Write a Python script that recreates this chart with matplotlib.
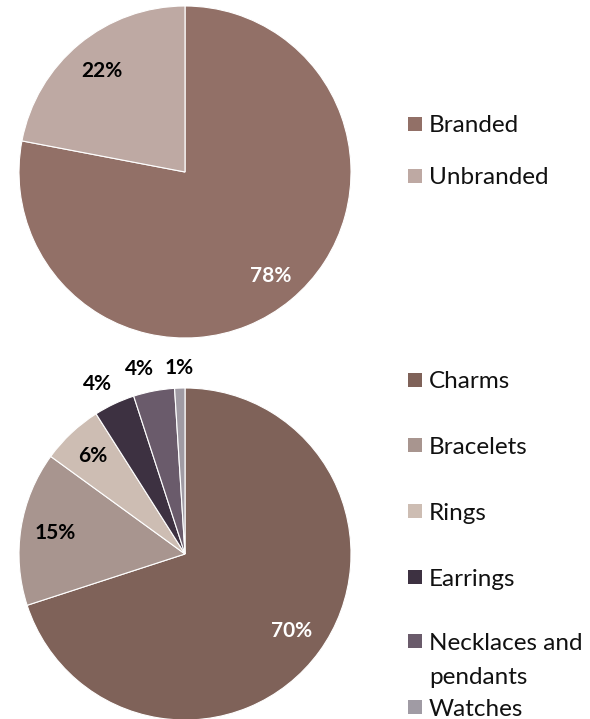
import numpy as np
import matplotlib.pyplot as plt
from matplotlib.patches import Rectangle

plt.rcParams['font.family'] = ['Lato', 'DejaVu Sans']

# brand split
brand_labels = ['Branded', 'Unbranded']
brand_share = [78, 22]
brand_colors = ['#927067', '#bea9a3']

# product category split
product_labels = ['Charms', 'Bracelets', 'Rings', 'Earrings',
                  'Necklaces and\npendants', 'Watches']
product_share = [70, 15, 6, 4, 4, 1]
product_colors = ['#7f6259', '#a8958f', '#cdbdb3', '#3d3141', '#6a5b6b', '#a09ba4']

W, H = 590, 719


def draw_pie(ax, values, colors, label_r, label_colors, nudge=None):
    wedges, _ = ax.pie(values, colors=colors, startangle=90, counterclock=False,
                       radius=1.0,
                       wedgeprops=dict(edgecolor='white', linewidth=0.8))
    ax.set_xlim(-1, 1)
    ax.set_ylim(-1, 1)
    ax.set_aspect('equal')
    ax.axis('off')
    if nudge is None:
        nudge = [0] * len(values)
    for w, v, r, c, d in zip(wedges, values, label_r, label_colors, nudge):
        mid = np.deg2rad((w.theta1 + w.theta2) / 2 + d)
        ax.text(r * np.cos(mid), r * np.sin(mid), f'{v}%', ha='center', va='center',
                fontsize=15, fontweight='bold', color=c, clip_on=False)
    return wedges


def draw_legend(fig, wedges, labels, ys):
    # hand-placed legend: square swatch + label, second line of a wrapped label below
    for w, lab, y in zip(wedges, labels, ys):
        fig.patches.append(Rectangle((408 / W, 1 - (y + 7) / H), 14 / W, 14 / H,
                                     transform=fig.transFigure,
                                     facecolor=w.get_facecolor(), edgecolor='none'))
        for i, line in enumerate(lab.split('\n')):
            fig.text(429 / W, 1 - (y + 2 + i * 34) / H, line, ha='left', va='center',
                     fontsize=17.5, color='#111111')


fig = plt.figure(figsize=(W / 100, H / 100), dpi=100)

ax1 = fig.add_axes([19 / W, 1 - 338 / H, 332 / W, 332 / H])
w1 = draw_pie(ax1, brand_share, brand_colors, [0.81, 0.79], ['white', 'black'])
draw_legend(fig, w1, brand_labels, [124, 176])

ax2 = fig.add_axes([19 / W, 1 - 720 / H, 332 / W, 332 / H])
w2 = draw_pie(ax2, product_share, product_colors,
              [0.79, 0.79, 0.81, 1.15, 1.15, 1.12],
              ['white', 'black', 'black', 'black', 'black', 'black'],
              nudge=[0, 0, 0, 2, 3, 0])
draw_legend(fig, w2, product_labels, [380, 445, 511, 577, 641, 707])

fig.savefig('out.png', dpi=100)
